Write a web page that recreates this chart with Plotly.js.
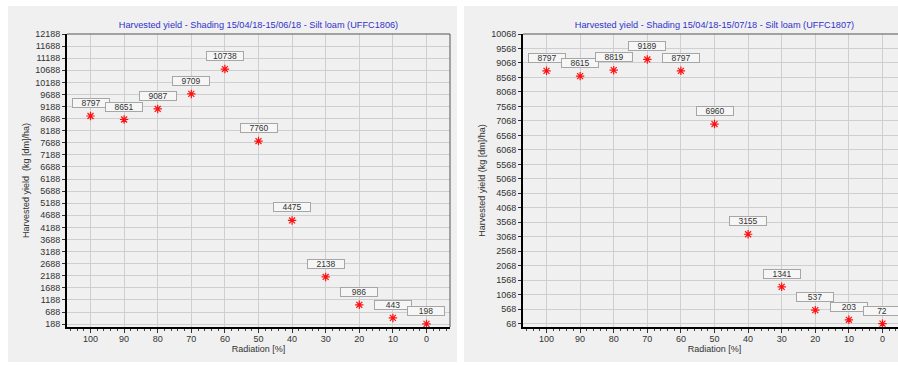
<!DOCTYPE html>
<html><head><meta charset="utf-8">
<script src="https://cdn.plot.ly/plotly-3.0.1.min.js"></script>
<style>
html,body{margin:0;padding:0;background:#ffffff;overflow:hidden;width:898px;height:365px;}
.panel{position:absolute;top:6px;width:449px;height:356px;}
#left{left:8px}
#right{left:464px}
</style></head><body>
<div id="left" class="panel"></div><div id="right" class="panel"></div>
<script>
// ---- data ----
const radiation = [100, 90, 80, 70, 60, 50, 40, 30, 20, 10, 0];
const yieldUFFC1806 = [8797, 8651, 9087, 9709, 10738, 7760, 4475, 2138, 986, 443, 198];
const yieldUFFC1807 = [8797, 8615, 8819, 9189, 8797, 6960, 3155, 1341, 537, 203, 72];
const titleUFFC1806 = "Harvested yield - Shading 15/04/18-15/06/18 - Silt loam (UFFC1806)";
const titleUFFC1807 = "Harvested yield - Shading 15/04/18-15/07/18 - Silt loam (UFFC1807)";
const xTitle = "Radiation [%]";
const yTitleLeft = "Harvested yield  (kg [dm]/ha)";
const yTitleRight = "Harvested yield (kg [dm]/ha)";
const xTickVals = [100, 90, 80, 70, 60, 50, 40, 30, 20, 10, 0];
const yTickStartLeft = 188, yTickTopLeft = 12188;
const yTickStartRight = 68, yTickTopRight = 10068;
const yTickStep = 500;

const FONT = "Liberation Sans, Arial, sans-serif";
const BG = "#f0f0f0";

function makeChart(divId, title, yTitle, yields, tick0, tickTop, yMin) {
  const trace = {
    type: "scatter", mode: "markers",
    x: radiation, y: yields,
    cliponaxis: false,
    marker: {symbol: "asterisk-open", size: 7, color: "#ff1010",
             line: {color: "#ff1010", width: 1.2}},
    hoverinfo: "x+y"
  };
  const annotations = radiation.map((r, i) => ({
    x: r, y: yields[i], xref: "x", yref: "y",
    text: String(yields[i]), showarrow: false, yshift: 13,
    width: 36, height: 8, borderpad: 0, borderwidth: 1,
    bordercolor: "#a6a6a6", bgcolor: "#f6f6f6",
    font: {family: FONT, size: 8.5, color: "#333333"}
  }));
  const layout = {
    width: 449, height: 356,
    margin: {l: 59, r: 7, t: 28, b: 35},
    paper_bgcolor: BG, plot_bgcolor: BG,
    showlegend: false,
    font: {family: FONT, size: 9, color: "#333333"},
    title: {text: title, x: 0.5, xanchor: "center", xref: "paper",
            y: 1 - 18.5/356, yanchor: "middle", yref: "container",
            font: {family: FONT, size: 9.2, color: "#3030cc"}},
    xaxis: {
      range: [107, -7], tickmode: "array", tickvals: xTickVals,
      ticks: "outside", ticklen: 4, tickcolor: "#333333", tickwidth: 1,
      ticklabelstandoff: -2,
      showline: true, linecolor: "#000000", linewidth: 2,
      showgrid: true, gridcolor: "#cfcfcf", gridwidth: 1, zeroline: false,
      minor: {dtick: 2, tick0: 0, ticks: "outside", ticklen: 2, tickcolor: "#444444", showgrid: false},
      tickfont: {family: FONT, size: 9, color: "#333333"},
      title: {text: xTitle, standoff: 2, font: {family: FONT, size: 9, color: "#333333"}},
      fixedrange: true
    },
    yaxis: {
      range: [yMin, tickTop], tick0: tick0, dtick: yTickStep, tickmode: "linear",
      tickformat: "d",
      ticks: "outside", ticklen: 3, tickcolor: "#333333", tickwidth: 1,
      showline: true, linecolor: "#000000", linewidth: 2,
      showgrid: true, gridcolor: "#cfcfcf", gridwidth: 1, zeroline: false,
      tickfont: {family: FONT, size: 9, color: "#333333"},
      title: {text: yTitle, standoff: 4, font: {family: FONT, size: 9, color: "#333333"}},
      fixedrange: true
    },
    shapes: [
      {type: "line", xref: "x domain", yref: "y domain", x0: 0, x1: 1, y0: 1, y1: 1,
       line: {color: "#555555", width: 1}},
      {type: "line", xref: "x domain", yref: "y domain", x0: 1, x1: 1, y0: 0, y1: 1,
       line: {color: "#555555", width: 1}}
    ],
    annotations: annotations
  };
  Plotly.newPlot(divId, [trace], layout, {displayModeBar: false, staticPlot: true});
}

makeChart("left", titleUFFC1806, yTitleLeft, yieldUFFC1806, yTickStartLeft, yTickTopLeft, 68);
makeChart("right", titleUFFC1807, yTitleRight, yieldUFFC1807, yTickStartRight, yTickTopRight, -46);
</script>
</body></html>
